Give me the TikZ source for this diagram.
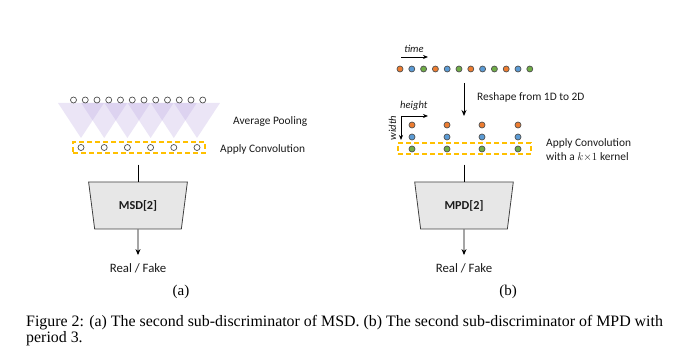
\documentclass[tikz,border=0pt]{standalone}
\usepackage{fontspec}
\setmainfont{Carlito}
\newfontfamily\capfont{Liberation Serif}
\usetikzlibrary{shapes.geometric,arrows.meta,fit}
\definecolor{dotor}{HTML}{ED7D31}
\definecolor{dotbl}{HTML}{5B9BD5}
\definecolor{dotgr}{HTML}{70AD47}
\definecolor{dotline}{HTML}{505050}
\definecolor{boxyel}{HTML}{FFC000}
\definecolor{poolc}{HTML}{B7A3E0}
\definecolor{trapfill}{HTML}{E7E7E7}
\definecolor{trapline}{HTML}{404040}
\definecolor{txt}{HTML}{1A1A1A}
\tikzset{
  dot/.style={circle,draw=dotline,line width=0.7pt,inner sep=0pt,minimum size=6pt},
  wdot/.style={dot,fill=white},
  odot/.style={dot,fill=dotor},
  bdot/.style={dot,fill=dotbl},
  gdot/.style={dot,fill=dotgr},
  yelbox/.style={draw=boxyel,dashed,dash pattern=on 5pt off 3pt,line width=1.1pt,inner sep=0pt},
  pool/.style={fill=poolc,fill opacity=0.28,draw=none},
  disc/.style={trapezium,trapezium angle=76,shape border rotate=180,trapezium stretches=true,
    minimum width=99pt,minimum height=47pt,fill=trapfill,draw=trapline,line width=0.8pt,
    font=\bfseries\fontsize{12.2}{14}\selectfont,text=txt,inner sep=0pt},
  lbl/.style={font=\fontsize{11.4}{13}\selectfont,text=txt,inner sep=0pt},
  rflbl/.style={font=\fontsize{12.8}{14}\selectfont,text=txt,inner sep=0pt},
  ilbl/.style={font=\itshape\fontsize{10.6}{12}\selectfont,text=txt,inner sep=0pt},
  arr/.style={-{Stealth[length=6pt,width=5pt]},line width=0.9pt,draw=black},
  sarr/.style={-{Stealth[length=5pt,width=4pt]},line width=0.8pt,draw=black},
  ln/.style={line width=0.9pt,draw=black},
  sub/.style={font=\capfont\fontsize{15}{17}\selectfont,inner sep=0pt},
  captext/.style={anchor=base west,inner sep=0pt,font=\capfont\fontsize{15.9}{18}\selectfont},
}
\begin{document}
\begin{tikzpicture}[x=1pt,y=-1pt]
\useasboundingbox (0,0) rectangle (689,363);
% ---------------- left panel (a) ----------------
\foreach \i in {0,...,5} {
  \pgfmathsetmacro{\ax}{81+23.2*\i}
  \fill[pool] (\ax-23,103) -- (\ax+23,103) -- (\ax,138) -- cycle;
}
\foreach \i in {1,...,12} {
  \node[wdot] (l\i) at ({73.5+11.75*(\i-1)},100) {};
}
\foreach \i in {1,...,6} {
  \node[wdot] (b\i) at ({81+23.2*(\i-1)},147.5) {};
}
\node[yelbox,fit={(73,142)(205,153)}] (lbox) {};
\node[lbl,anchor=west] (avgp) at (233,122) {Average Pooling};
\node[lbl,anchor=west] (convl) at (220,149) {Apply Convolution};
\node[disc] (msd) at (138,205.5) {MSD[2]};
\node[rflbl] (rfl) at (138,268) {Real / Fake};
\draw[ln,shorten <=11pt] (lbox.south -| msd.north) -- (msd.north);
\draw[arr,shorten >=8pt] (msd.south) -- (rfl.north);
\node[sub] (suba) at (181,292) {(a)};
% ---------------- right panel (b) ----------------
\node[ilbl] (timel) at (414,49) {time};
\coordinate (t1) at (401,57);
\coordinate (t2) at (428,57);
\draw[sarr] (t1) -- (t2);
\foreach \i/\s in {1/odot,2/bdot,3/gdot,4/odot,5/bdot,6/gdot,7/odot,8/bdot,9/gdot,10/odot,11/bdot,12/gdot} {
  \node[\s] (r\i) at ({400+11.8*(\i-1)},69) {};
}
\coordinate (rs1) at (464,83);
\coordinate (rs2) at (464,116);
\draw[arr] (rs1) -- (rs2);
\node[lbl,anchor=west] (reshape) at (477,97) {Reshape from 1D to 2D};
\node[ilbl,anchor=west] (heightl) at (400,106) {height};
\coordinate (hc) at (401,116);
\coordinate (hx) at (428,116);
\coordinate (hy) at (401,140);
\draw[sarr] (hc) -- (hx);
\draw[sarr] (hc) -- (hy);
\node[ilbl,rotate=90] (widthl) at (392.5,128) {width};
\foreach \c/\x in {1/412,2/447,3/482,4/518} {
  \node[odot] (o\c) at (\x,125) {};
  \node[bdot] (u\c) at (\x,137) {};
  \node[gdot] (g\c) at (\x,149) {};
}
\node[yelbox,fit={(398,143)(531,154)}] (rbox) {};
\node[lbl,anchor=west] (convr1) at (546,143.5) {Apply Convolution};
\node[lbl,anchor=west] (convr2) at (546,157.5) {with a $k{\times}1$ kernel};
\node[disc] (mpd) at (464,205.5) {MPD[2]};
\node[rflbl] (rfr) at (464,268) {Real / Fake};
\draw[ln,shorten <=10pt] (rbox.south -| mpd.north) -- (mpd.north);
\draw[arr,shorten >=8pt] (mpd.south) -- (rfr.north);
\node[sub] (subb) at (508,292) {(b)};
% ---------------- caption ----------------
\node[captext] (cap1) at (26,326.5)
  {Figure 2: (a) The second sub-discriminator of MSD. (b) The second sub-discriminator of MPD with};
\node[captext] (cap2) at (26,342.5) {period 3.};
\end{tikzpicture}
\end{document}
